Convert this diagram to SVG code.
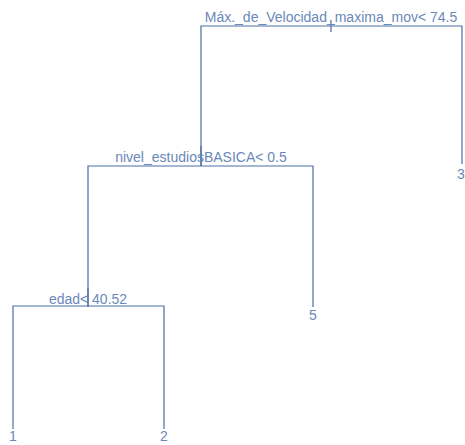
<svg xmlns="http://www.w3.org/2000/svg" width="465" height="445" viewBox="0 0 465 445">
  <style>
    .edge { stroke: #4a6ea6; stroke-width: 1.2; fill: none; }
    .lbl { font-family: "Liberation Sans", Arial, sans-serif; font-size: 14px; fill: #6a88b8; text-anchor: middle; }
  </style>
  <rect width="465" height="445" fill="#ffffff"/>
  <!-- branches of the tree -->
  <g id="connectors">
    <path class="edge" d="M201 166 V26 H462 V164"/>
    <path class="edge" d="M331 20 V32"/>
    <path class="edge" d="M88 307 V166 H313 V307"/>
    <path class="edge" d="M201 166 V146"/>
    <path class="edge" d="M13 429 V306 H164 V429"/>
    <path class="edge" d="M88 306 V288"/>
  </g>
  <g id="split-velocidad">
    <text class="lbl" x="331" y="22">Máx._de_Velocidad_maxima_mov&lt; 74.5</text>
  </g>
  <g id="split-estudios">
    <text class="lbl" x="201" y="162">nivel_estudiosBASICA&lt; 0.5</text>
  </g>
  <g id="split-edad">
    <text class="lbl" x="88" y="304">edad&lt; 40.52</text>
  </g>
  <g id="leaf-3">
    <text class="lbl" x="461" y="179">3</text>
  </g>
  <g id="leaf-5">
    <text class="lbl" x="313" y="320">5</text>
  </g>
  <g id="leaf-1">
    <text class="lbl" x="13" y="441">1</text>
  </g>
  <g id="leaf-2">
    <text class="lbl" x="164" y="441">2</text>
  </g>
</svg>
